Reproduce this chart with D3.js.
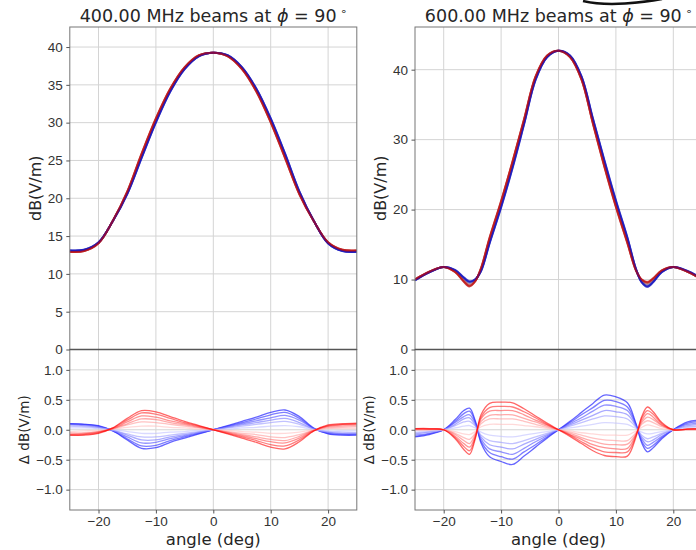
<!DOCTYPE html>
<html lang="en">
<head>
<meta charset="utf-8">
<title>Beams at phi = 90</title>
<script src="https://cdn.jsdelivr.net/npm/d3@7"></script>
<style>
    body { margin: 0; background: #fff; }
    svg { display: block; font-family: "DejaVu Sans", sans-serif; }
    .tick text { fill: #333; font-size: 13.5px; }
    .tick line { stroke: #555; }
    .domain { display: none; }
    .grid line { stroke: #d4d4d4; stroke-width: 1; }
</style>
</head>
<body>
<div id="chart_div"></div>
<script>
"use strict";

// ---- 400 MHz ----
var angles400 = [-25, -22.5, -20, -17.5, -15, -12.5, -10, -7.5, -5, -2.5, 0, 2.5, 5, 7.5, 10, 12.5, 15, 17.5, 20, 22.5, 25];
var beam400 = [13.0, 13.1, 14.1, 17.0, 20.7, 25.6, 30.3, 34.3, 37.2, 38.85, 39.25, 38.85, 37.2, 34.3, 30.3, 25.6, 20.7, 17.0, 14.1, 13.1, 13.0];
var blue400 = [
    [0.10, 0.09, 0.07, -0.02, -0.17, -0.31, -0.30, -0.21, -0.14, -0.07, 0.00, 0.07, 0.14, 0.21, 0.29, 0.33, 0.22, 0.03, -0.07, -0.09, -0.09],
    [0.10, 0.09, 0.06, -0.02, -0.15, -0.27, -0.26, -0.18, -0.12, -0.06, 0.00, 0.06, 0.12, 0.18, 0.25, 0.29, 0.19, 0.02, -0.06, -0.08, -0.08],
    [0.09, 0.08, 0.05, -0.01, -0.12, -0.22, -0.21, -0.15, -0.10, -0.05, 0.00, 0.05, 0.10, 0.15, 0.20, 0.24, 0.16, 0.02, -0.05, -0.07, -0.07],
    [0.08, 0.07, 0.04, -0.01, -0.09, -0.17, -0.17, -0.12, -0.08, -0.04, 0.00, 0.04, 0.08, 0.12, 0.16, 0.19, 0.12, 0.01, -0.04, -0.06, -0.06],
    [0.06, 0.05, 0.03, -0.01, -0.07, -0.12, -0.12, -0.09, -0.06, -0.03, 0.00, 0.03, 0.06, 0.09, 0.12, 0.14, 0.09, 0.01, -0.03, -0.04, -0.05],
    [0.03, 0.03, 0.02, 0.00, -0.03, -0.06, -0.06, -0.04, -0.03, -0.01, 0.00, 0.01, 0.03, 0.04, 0.06, 0.07, 0.05, 0.00, -0.02, -0.02, -0.02]
];
var red400 = [
    [-0.09, -0.09, -0.06, 0.03, 0.19, 0.32, 0.30, 0.22, 0.14, 0.07, 0.00, -0.07, -0.14, -0.21, -0.29, -0.32, -0.20, -0.02, 0.08, 0.10, 0.11],
    [-0.09, -0.08, -0.05, 0.03, 0.16, 0.28, 0.26, 0.19, 0.12, 0.06, 0.00, -0.06, -0.12, -0.18, -0.25, -0.27, -0.17, -0.02, 0.07, 0.09, 0.10],
    [-0.08, -0.07, -0.04, 0.02, 0.13, 0.23, 0.21, 0.15, 0.10, 0.05, 0.00, -0.05, -0.10, -0.15, -0.20, -0.22, -0.14, -0.01, 0.06, 0.08, 0.09],
    [-0.07, -0.06, -0.03, 0.02, 0.10, 0.18, 0.17, 0.12, 0.08, 0.04, 0.00, -0.04, -0.08, -0.12, -0.16, -0.18, -0.11, -0.01, 0.05, 0.06, 0.07],
    [-0.05, -0.05, -0.03, 0.01, 0.08, 0.13, 0.12, 0.09, 0.06, 0.03, 0.00, -0.03, -0.06, -0.08, -0.12, -0.13, -0.08, -0.01, 0.03, 0.04, 0.05],
    [-0.03, -0.02, -0.01, 0.01, 0.04, 0.06, 0.06, 0.04, 0.03, 0.01, 0.00, -0.01, -0.03, -0.04, -0.06, -0.06, -0.04, 0.00, 0.02, 0.02, 0.02]
];

// ---- 600 MHz ----
var angles600 = [-25, -22.5, -20, -18, -16.5, -15.5, -14.5, -13.5, -12, -10, -8, -6, -4, -2, 0, 2, 4, 6, 8, 10, 12, 13.5, 14.5, 15.5, 16.5, 18, 20, 22.5, 25];
var beam600 = [10.0, 11.1, 11.8, 11.2, 10.0, 9.4, 9.9, 11.4, 15.6, 20.8, 26.5, 32.6, 38.8, 41.9, 42.7, 41.9, 38.8, 32.6, 26.5, 20.8, 15.6, 11.4, 9.8, 9.3, 9.9, 11.2, 11.8, 11.1, 10.0];
var blue600 = [
    [-0.12, -0.08, 0.00, 0.17, 0.32, 0.36, 0.15, -0.22, -0.45, -0.53, -0.58, -0.44, -0.29, -0.14, 0.00, 0.14, 0.29, 0.44, 0.58, 0.55, 0.45, 0.10, -0.22, -0.37, -0.30, -0.15, 0.00, 0.13, 0.16],
    [-0.11, -0.07, 0.00, 0.14, 0.27, 0.31, 0.13, -0.19, -0.38, -0.45, -0.49, -0.37, -0.25, -0.12, 0.00, 0.12, 0.25, 0.37, 0.49, 0.47, 0.38, 0.09, -0.19, -0.31, -0.26, -0.13, 0.00, 0.11, 0.14],
    [-0.09, -0.06, 0.00, 0.12, 0.22, 0.25, 0.11, -0.15, -0.32, -0.37, -0.41, -0.31, -0.20, -0.10, 0.00, 0.10, 0.20, 0.31, 0.41, 0.39, 0.32, 0.07, -0.15, -0.26, -0.21, -0.11, 0.00, 0.09, 0.11],
    [-0.07, -0.04, 0.00, 0.09, 0.18, 0.20, 0.08, -0.12, -0.25, -0.29, -0.32, -0.24, -0.16, -0.08, 0.00, 0.08, 0.16, 0.24, 0.32, 0.30, 0.25, 0.06, -0.12, -0.20, -0.17, -0.08, 0.00, 0.07, 0.09],
    [-0.05, -0.03, 0.00, 0.07, 0.13, 0.14, 0.06, -0.09, -0.18, -0.21, -0.23, -0.18, -0.12, -0.06, 0.00, 0.06, 0.12, 0.18, 0.23, 0.22, 0.18, 0.04, -0.09, -0.15, -0.12, -0.06, 0.00, 0.05, 0.06],
    [-0.02, -0.02, 0.00, 0.03, 0.06, 0.07, 0.03, -0.04, -0.09, -0.11, -0.12, -0.09, -0.06, -0.03, 0.00, 0.03, 0.06, 0.09, 0.12, 0.11, 0.09, 0.02, -0.04, -0.07, -0.06, -0.03, 0.00, 0.03, 0.03]
];
var red600 = [
    [0.02, 0.02, 0.00, -0.15, -0.33, -0.41, -0.15, 0.25, 0.44, 0.46, 0.45, 0.35, 0.23, 0.11, 0.00, -0.11, -0.23, -0.35, -0.43, -0.45, -0.44, -0.12, 0.22, 0.38, 0.30, 0.12, 0.00, 0.01, 0.02],
    [0.02, 0.01, 0.00, -0.13, -0.28, -0.35, -0.13, 0.21, 0.37, 0.39, 0.38, 0.30, 0.20, 0.09, 0.00, -0.09, -0.20, -0.30, -0.37, -0.38, -0.37, -0.10, 0.19, 0.32, 0.26, 0.10, 0.00, 0.01, 0.02],
    [0.01, 0.01, 0.00, -0.11, -0.23, -0.29, -0.11, 0.18, 0.31, 0.32, 0.32, 0.25, 0.16, 0.08, 0.00, -0.08, -0.16, -0.25, -0.30, -0.32, -0.31, -0.08, 0.15, 0.27, 0.21, 0.08, 0.00, 0.01, 0.01],
    [0.01, 0.01, 0.00, -0.08, -0.18, -0.23, -0.08, 0.14, 0.24, 0.25, 0.25, 0.19, 0.13, 0.06, 0.00, -0.06, -0.13, -0.19, -0.24, -0.25, -0.24, -0.07, 0.12, 0.21, 0.17, 0.07, 0.00, 0.01, 0.01],
    [0.00, 0.00, 0.00, -0.06, -0.13, -0.16, -0.06, 0.10, 0.18, 0.18, 0.18, 0.14, 0.09, 0.04, 0.00, -0.04, -0.09, -0.14, -0.17, -0.18, -0.18, -0.05, 0.09, 0.15, 0.12, 0.05, 0.00, 0.00, 0.00],
    [0.00, 0.00, 0.00, -0.03, -0.07, -0.08, -0.03, 0.05, 0.09, 0.09, 0.09, 0.07, 0.05, 0.02, 0.00, -0.02, -0.05, -0.07, -0.09, -0.09, -0.09, -0.02, 0.04, 0.08, 0.06, 0.02, 0.00, 0.00, 0.00]
];

var xTicks = [-20, -10, 0, 10, 20];
var deltaTicks = [-1.0, -0.5, 0.0, 0.5, 1.0];
var beamTicks400 = [0, 5, 10, 15, 20, 25, 30, 35, 40];
var beamTicks600 = [0, 10, 20, 30, 40];

var svg_width = 696;
var svg_height = 550;
var plot_width = 287;
var top_y = 27;
var mid_y = 349.5;
var bottom_y = 510;

// bwr-like colours, strongest first
var blueColors = ["rgb(0,0,255)", "rgb(38,38,255)", "rgb(77,77,255)", "rgb(115,115,255)", "rgb(153,153,255)", "rgb(191,191,255)"];
var redColors = ["rgb(255,0,0)", "rgb(255,38,38)", "rgb(255,77,77)", "rgb(255,115,115)", "rgb(255,153,153)", "rgb(255,191,191)"];

var svg = d3.select("#chart_div")
    .append("svg")
    .attr("width", svg_width)
    .attr("height", svg_height);

var panels = [
    {id: "p400", left: 69.8, freq: "400.00", angles: angles400, beam: beam400, blue: blue400, red: red400,
     yMax: 42.65, yTicks: beamTicks400, labelX: 41, dlabelX: 29},
    {id: "p600", left: 415, freq: "600.00", angles: angles600, beam: beam600, blue: blue600, red: red600,
     yMax: 46.1, yTicks: beamTicks600, labelX: 386, dlabelX: 374}
];

panels.forEach(function(p)
{
    var x = d3.scaleLinear().domain([-25, 25]).range([p.left, p.left + plot_width]);
    var y = d3.scaleLinear().domain([0, p.yMax]).range([mid_y, top_y]);
    var yd = d3.scaleLinear().domain([-1.34, 1.34]).range([bottom_y, mid_y]);

    // clip paths
    var defs = svg.append("defs");
    defs.append("clipPath").attr("id", p.id + "up")
        .append("rect").attr("x", p.left).attr("y", top_y).attr("width", plot_width).attr("height", mid_y - top_y);
    defs.append("clipPath").attr("id", p.id + "lo")
        .append("rect").attr("x", p.left).attr("y", mid_y).attr("width", plot_width).attr("height", bottom_y - mid_y);

    // grids
    var g = svg.append("g").attr("class", "grid");
    g.selectAll(".vx").data(xTicks).enter().append("line")
        .attr("x1", function(d) { return x(d); }).attr("x2", function(d) { return x(d); })
        .attr("y1", top_y).attr("y2", bottom_y);
    g.selectAll(".hy").data(p.yTicks).enter().append("line")
        .attr("x1", p.left).attr("x2", p.left + plot_width)
        .attr("y1", function(d) { return y(d); }).attr("y2", function(d) { return y(d); });
    g.selectAll(".hd").data(deltaTicks).enter().append("line")
        .attr("x1", p.left).attr("x2", p.left + plot_width)
        .attr("y1", function(d) { return yd(d); }).attr("y2", function(d) { return yd(d); });

    // series: blue strong -> faint, then red faint -> strong
    var series = [];
    p.blue.forEach(function(d, i) { series.push({vals: d, color: blueColors[i]}); });
    p.red.slice().reverse().forEach(function(d, i) { series.push({vals: d, color: redColors[p.red.length - 1 - i]}); });

    // upper panel: interleave blue and red, faint first, so the beams blend
    var upSeries = [];
    for (var k = p.blue.length - 1; k >= 0; k--)
    {
        upSeries.push({vals: p.blue[k], color: d3.color(blueColors[k]).darker(0.8)});
        upSeries.push({vals: p.red[k], color: d3.color(redColors[k]).darker(0.8)});
    }

    var upLine = d3.line()
        .x(function(d, i) { return x(p.angles[i]); })
        .y(function(d, i) { return y(p.beam[i] + d); })
        .curve(d3.curveCatmullRom.alpha(0.5));
    var loLine = d3.line()
        .x(function(d, i) { return x(p.angles[i]); })
        .y(function(d) { return yd(d); })
        .curve(d3.curveCatmullRom.alpha(0.5));

    svg.append("g").attr("clip-path", "url(#" + p.id + "up)")
        .selectAll("path").data(upSeries).enter().append("path")
        .attr("d", function(d) { return upLine(d.vals); })
        .attr("fill", "none")
        .attr("stroke", function(d) { return d.color; })
        .attr("stroke-width", 2)
        .attr("stroke-opacity", 0.5);

    svg.append("g").attr("clip-path", "url(#" + p.id + "lo)")
        .selectAll("path").data(series).enter().append("path")
        .attr("d", function(d) { return loLine(d.vals); })
        .attr("fill", "none")
        .attr("stroke", function(d) { return d.color; })
        .attr("stroke-width", 1.3)
        .attr("stroke-opacity", 0.6);

    // frames
    svg.append("rect").attr("x", p.left).attr("y", top_y).attr("width", plot_width).attr("height", mid_y - top_y)
        .attr("fill", "none").attr("stroke", "#777").attr("stroke-width", 1);
    svg.append("rect").attr("x", p.left).attr("y", mid_y).attr("width", plot_width).attr("height", bottom_y - mid_y)
        .attr("fill", "none").attr("stroke", "#777").attr("stroke-width", 1);
    svg.append("line").attr("x1", p.left).attr("x2", p.left + plot_width).attr("y1", mid_y).attr("y2", mid_y)
        .attr("stroke", "#555").attr("stroke-width", 1.3);

    // axes
    svg.append("g").attr("transform", "translate(" + p.left + ",0)")
        .call(d3.axisLeft(y).tickValues(p.yTicks).tickSize(3.5).tickPadding(3.5).tickFormat(d3.format("d")));
    svg.append("g").attr("transform", "translate(" + p.left + ",0)")
        .call(d3.axisLeft(yd).tickValues(deltaTicks).tickSize(3.5).tickPadding(3.5).tickFormat(d3.format(".1f")));
    svg.append("g").attr("transform", "translate(0," + bottom_y + ")")
        .call(d3.axisBottom(x).tickValues(xTicks).tickSize(3.5).tickPadding(2.5).tickFormat(d3.format("d")));

    // title
    var t = svg.append("text")
        .attr("x", p.left + plot_width / 2).attr("y", 22)
        .attr("text-anchor", "middle").attr("font-size", 17.5).attr("fill", "#262626");
    t.append("tspan").text(p.freq + " MHz beams at ");
    t.append("tspan").attr("font-style", "italic").text("ϕ");
    t.append("tspan").text(" = 90");
    t.append("tspan").attr("font-size", 11).attr("dy", -7).text(" ∘");

    // labels
    svg.append("text")
        .attr("transform", "translate(" + p.labelX + "," + ((top_y + mid_y) / 2) + ") rotate(-90)")
        .attr("text-anchor", "middle").attr("font-size", 16).attr("fill", "#262626")
        .text("dB(V/m)");
    svg.append("text")
        .attr("transform", "translate(" + p.dlabelX + "," + ((mid_y + bottom_y) / 2) + ") rotate(-90)")
        .attr("text-anchor", "middle").attr("font-size", 13.5).attr("fill", "#262626")
        .text("Δ dB(V/m)");
    svg.append("text")
        .attr("x", p.left + plot_width / 2).attr("y", 545)
        .attr("text-anchor", "middle").attr("font-size", 16.5).attr("fill", "#262626")
        .text("angle (deg)");
});

// stray pen stroke at the top of the picture
svg.append("path")
    .attr("d", "M583,1 Q600,5 625,3.5 Q645,2 662,-1")
    .attr("fill", "none").attr("stroke", "#111").attr("stroke-width", 2.5);
</script>
</body>
</html>
